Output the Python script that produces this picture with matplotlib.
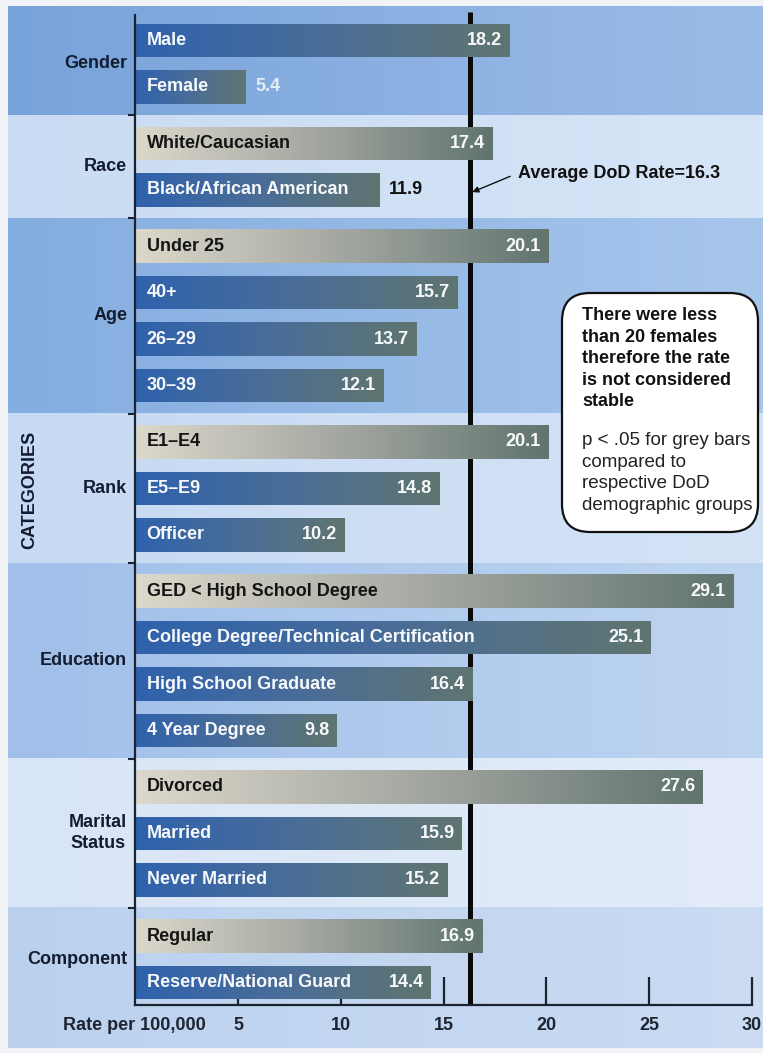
import numpy as np
import matplotlib
matplotlib.use("Agg")
import matplotlib.pyplot as plt
from matplotlib.colors import LinearSegmentedColormap
from matplotlib.patches import FancyBboxPatch

# ---------------------------------------------------------------- data
groups = ["Gender", "Race", "Age", "Rank", "Education", "Marital\nStatus", "Component"]

gender = ["Male", "Female"]
gender_rate = [18.2, 5.4]
race = ["White/Caucasian", "Black/African American"]
race_rate = [17.4, 11.9]
age = ["Under 25", "40+", "26–29", "30–39"]
age_rate = [20.1, 15.7, 13.7, 12.1]
rank = ["E1–E4", "E5–E9", "Officer"]
rank_rate = [20.1, 14.8, 10.2]
education = ["GED < High School Degree", "College Degree/Technical Certification",
             "High School Graduate", "4 Year Degree"]
education_rate = [29.1, 25.1, 16.4, 9.8]
marital = ["Divorced", "Married", "Never Married"]
marital_rate = [27.6, 15.9, 15.2]
component = ["Regular", "Reserve/National Guard"]
component_rate = [16.9, 14.4]

# grey bars: p < .05 compared to the respective DoD demographic group
significant = ["White/Caucasian", "Under 25", "E1–E4", "GED < High School Degree",
               "Divorced", "Regular"]
# bars whose value is printed past the end of the bar
value_outside = {"Female": "#e4ecf6", "Black/African American": "#111111"}

dod_average = 16.3
x_ticks = [5, 10, 15, 20, 25, 30]
x_max = 30

note_bold = ["There were less", "than 20 females", "therefore the rate",
             "is not considered", "stable"]
note_plain = ["p < .05 for grey bars", "compared to", "respective DoD",
              "demographic groups"]

# ---------------------------------------------------------------- style
plt.rcParams["font.family"] = ["Liberation Sans", "DejaVu Sans"]
FS = 13
TXT_DARK = "#141d30"

band_colors = [("#78a3da", "#9cbce8"),   # Gender
               ("#cadcf3", "#d6e5f7"),   # Race
               ("#84ade0", "#a7c6ec"),   # Age
               ("#c7daf3", "#d4e3f6"),   # Rank
               ("#a0bfe9", "#bed5f1"),   # Education
               ("#d8e5f6", "#e3ecf8"),   # Marital
               ("#bad1ee", "#cbdcf3")]   # Component

blue_cmap = LinearSegmentedColormap.from_list("bluebar", ["#2f62ad", "#4a6d98", "#5f7570"])
grey_cmap = LinearSegmentedColormap.from_list("greybar", ["#dcd8cb", "#a4a7a1", "#61746e"])

# ---------------------------------------------------------------- figure
W, H = 763, 1053
fig = plt.figure(figsize=(W / 100, H / 100), dpi=100, facecolor="#f1f3f6")


def fx(px):
    return px / W


def fy(py):
    return 1 - py / H


ax_l, ax_r, ax_t, ax_b = 135.4, 752.0, 7.0, 1005.0
bg = fig.add_axes([0, 0, 1, 1], zorder=0)
bg.axis("off")
ax = fig.add_axes([fx(ax_l), fy(ax_b), fx(ax_r) - fx(ax_l), fy(ax_t) - fy(ax_b)], zorder=2)
ax.patch.set_visible(False)

# row positions: one unit per bar, a small extra gap between groups
all_labels = [gender, race, age, rank, education, marital, component]
all_rates = [gender_rate, race_rate, age_rate, rank_rate, education_rate,
             marital_rate, component_rate]
gap = 0.21
ys, names, rates, spans = [], [], [], []
y = 0.0
for labs, vals in zip(all_labels, all_rates):
    start = y
    for lab, v in zip(labs, vals):
        ys.append(y)
        names.append(lab)
        rates.append(v)
        y += 1
    spans.append((start, y - 1))
    y += gap

y_top, y_bot = -0.72, ys[-1] + 0.48
ax.set_xlim(0, x_max)
ax.set_ylim(y_bot, y_top)

# ---------------------------------------------------------------- bands
edges = [y_top]
for (s0, e0), (s1, e1) in zip(spans[:-1], spans[1:]):
    edges.append((e0 + s1) / 2)
edges.append(ys[-1] + 1.41)


def to_px_y(yd):
    return H - ax.transData.transform((0, yd))[1]


grad = np.linspace(0, 1, 256).reshape(1, -1)
for i, (c0, c1) in enumerate(band_colors):
    top_px, bot_px = to_px_y(edges[i]), to_px_y(edges[i + 1])
    cm = LinearSegmentedColormap.from_list(f"band{i}", [c0, c1])
    bg.imshow(grad, cmap=cm, extent=[8, W, bot_px, top_px], aspect="auto",
              interpolation="bilinear", zorder=0)
bg.set_xlim(0, W)
bg.set_ylim(H, 0)

# ---------------------------------------------------------------- bars
bar_h = 0.72
bars = ax.barh(ys, rates, height=bar_h, color="none", edgecolor="none", zorder=3)
for b, name in zip(bars, names):
    cmap = grey_cmap if name in significant else blue_cmap
    x0, y0, w, h = b.get_x(), b.get_y(), b.get_width(), b.get_height()
    im = ax.imshow(grad, cmap=cmap, extent=[x0, x0 + w, y0 + h, y0], aspect="auto",
                   interpolation="bilinear", zorder=3)
    im.set_clip_path(b)

# labels in and beside the bars
for yv, name, v in zip(ys, names, rates):
    grey = name in significant
    ax.text(0.55, yv, name, ha="left", va="center", fontsize=FS, fontweight="bold",
            color="#141414" if grey else "#f7f9fb", zorder=5)
    if name in value_outside:
        ax.text(v + 0.42, yv, f"{v:.1f}", ha="left", va="center", fontsize=FS,
                fontweight="bold", color=value_outside[name], zorder=5)
    else:
        ax.text(v - 0.37, yv, f"{v:.1f}", ha="right", va="center", fontsize=FS,
                fontweight="bold", color="#f7f9fb", zorder=5)

# group names and separators on the category axis
for grp, (s, e) in zip(groups, spans):
    ax.text(-0.4, (s + e) / 2, grp, ha="right", va="center", fontsize=FS,
            fontweight="bold", color=TXT_DARK, multialignment="center",
            linespacing=1.3, zorder=5)
for b_y in edges[1:-1]:
    ax.plot([-0.3, 0], [b_y, b_y], color="#1c2330", lw=1.5, clip_on=False, zorder=4)

fig.text(fx(30), fy(490), "CATEGORIES", rotation=90, ha="center", va="center",
         fontsize=FS, fontweight="bold", color=TXT_DARK)

# DoD average line
ax.axvline(dod_average, ymin=0, ymax=(ax_b - 12) / (ax_b - ax_t), color="#0a0a0a",
           lw=3.6, zorder=2, solid_capstyle="butt")
ax.annotate(f"Average DoD Rate={dod_average}", xy=(dod_average + 0.09, 3.26),
            xytext=(18.62, 2.85), ha="left", va="center", fontsize=FS,
            fontweight="bold", color="#111111", zorder=6,
            arrowprops=dict(arrowstyle="-|>", color="#111111", lw=1.0,
                            mutation_scale=9, relpos=(0, 0.5), shrinkA=4, shrinkB=0))

# ---------------------------------------------------------------- axes
for side in ("top", "right"):
    ax.spines[side].set_visible(False)
ax.spines["left"].set_bounds(y_bot, -0.55)
ax.spines["bottom"].set_bounds(0, x_max)
for side in ("left", "bottom"):
    ax.spines[side].set_color("#1c2330")
    ax.spines[side].set_linewidth(1.6)
ax.spines["left"].set_zorder(4)
ax.set_yticks([])
ax.set_xticks(x_ticks)
ax.set_xticklabels([str(t) for t in x_ticks])
ax.tick_params(axis="x", direction="in", length=20, width=1.6, color="#1c2330",
               pad=9, labelsize=FS, labelcolor="#1e2530")
for lab in ax.get_xticklabels():
    lab.set_fontweight("bold")
ax.text(3.4, -(1025 - ax_b) / (ax_b - ax_t), "Rate per 100,000",
        transform=ax.get_xaxis_transform(), ha="right", va="center",
        fontsize=FS, fontweight="bold", color="#1e2530")

# ---------------------------------------------------------------- note box
box = FancyBboxPatch((fx(562), fy(532)), fx(758) - fx(562), fy(293) - fy(532),
                     boxstyle=f"round,pad=0,rounding_size={28 / W}",
                     mutation_aspect=W / H, transform=fig.transFigure,
                     facecolor="white", edgecolor="#111111", lw=1.6, zorder=5)
fig.add_artist(box)
step = 21.6
for i, line in enumerate(note_bold):
    fig.text(fx(582), fy(320 + i * step), line, ha="left", va="baseline",
             fontsize=FS, fontweight="bold", color="#111111", zorder=6)
for i, line in enumerate(note_plain):
    fig.text(fx(582), fy(445 + i * step), line, ha="left", va="baseline",
             fontsize=FS + 0.5, color="#222222", zorder=6)

ax.set_xlim(0, x_max)
ax.set_ylim(y_bot, y_top)
fig.savefig("out.png", dpi=100, facecolor=fig.get_facecolor())
